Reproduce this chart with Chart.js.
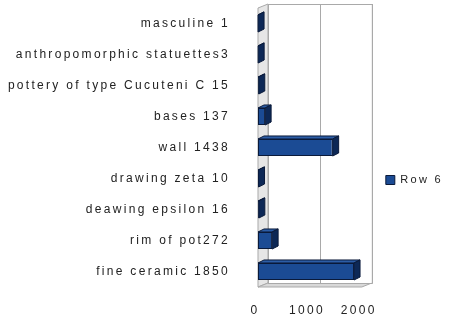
<!DOCTYPE html>
<html>
<head>
<meta charset="utf-8">
<script src="https://cdn.jsdelivr.net/npm/chart.js@4/dist/chart.umd.min.js"></script>
<style>
  html, body { margin: 0; padding: 0; background: #fff; }
  #wrap { width: 470px; height: 324px; }
</style>
</head>
<body>
<div id="wrap"><canvas id="chart"></canvas></div>
<script>
const categories = [
  'masculine 1',
  'anthropomorphic statuettes3',
  'pottery of type Cucuteni C 15',
  'bases 137',
  'wall 1438',
  'drawing zeta 10',
  'deawing epsilon 16',
  'rim of pot272',
  'fine ceramic 1850'
];
const counts = [1, 3, 15, 137, 1438, 10, 16, 272, 1850];
const xTicks = [0, 1000, 2000];
const seriesName = 'Row 6';

// fake 3d look
const wallDepth = { x: 10, y: 4 };
const barDepth = { x: 6, y: 3 };
const spacing = '2.3px';

function poly(ctx, pts, fill, stroke) {
  ctx.beginPath();
  ctx.moveTo(pts[0][0], pts[0][1]);
  for (let i = 1; i < pts.length; i++) ctx.lineTo(pts[i][0], pts[i][1]);
  ctx.closePath();
  if (fill) { ctx.fillStyle = fill; ctx.fill(); }
  if (stroke) { ctx.strokeStyle = stroke; ctx.stroke(); }
}

const box3d = {
  id: 'box3d',
  beforeUpdate(chart) { chart.ctx.letterSpacing = spacing; },
  beforeDraw(chart) { chart.ctx.letterSpacing = spacing; },
  afterLayout(chart) {
    // nudge the legend to where the original sits
    const lg = chart.legend;
    lg.left += 14; lg.right += 14;
    lg.top += 14; lg.bottom += 14;
  },
  beforeDatasetsDraw(chart) {
    const { ctx, chartArea: a, scales } = chart;
    const dx = wallDepth.x, dy = wallDepth.y;
    ctx.save();
    ctx.lineWidth = 1;
    // left wall + floor
    poly(ctx, [[a.left, a.top], [a.left + dx, a.top - dy], [a.left + dx, a.bottom - dy], [a.left, a.bottom]], '#e6e6e6', '#a9a9a9');
    poly(ctx, [[a.left, a.bottom], [a.left + dx, a.bottom - dy], [a.right + dx, a.bottom - dy], [a.right, a.bottom]], '#d9d9d9', '#a9a9a9');
    // back wall
    ctx.fillStyle = '#fff';
    ctx.fillRect(a.left + dx, a.top - dy, a.right - a.left, a.bottom - a.top);
    ctx.strokeStyle = '#a9a9a9';
    ctx.strokeRect(a.left + dx + 0.5, a.top - dy + 0.5, a.right - a.left, a.bottom - a.top);
    scales.x.ticks.forEach(t => {
      const px = Math.round(scales.x.getPixelForValue(t.value) + dx) + 0.5;
      ctx.beginPath();
      ctx.moveTo(px, a.top - dy);
      ctx.lineTo(px, a.bottom - dy);
      ctx.stroke();
    });
    ctx.restore();
  },
  afterDatasetsDraw(chart) {
    const ctx = chart.ctx;
    const bdx = barDepth.x, bdy = barDepth.y;
    ctx.save();
    ctx.lineWidth = 1;
    chart.getDatasetMeta(0).data.forEach(bar => {
      const { x, y, base, height } = bar.getProps(['x', 'y', 'base', 'height'], true);
      const top = y - height / 2, bot = y + height / 2;
      poly(ctx, [[base, top], [base + bdx, top - bdy], [x + bdx, top - bdy], [x, top]], '#2c5da6', '#0a1a3a');
      poly(ctx, [[x, top], [x + bdx, top - bdy], [x + bdx, bot - bdy], [x, bot]], '#0d2856', '#0a1a3a');
    });
    ctx.restore();
  }
};

const font = { family: '"Liberation Sans", Arial, sans-serif', size: 12 };

new Chart(document.getElementById('chart'), {
  type: 'bar',
  data: {
    labels: categories,
    datasets: [{
      label: seriesName,
      data: counts,
      backgroundColor: '#1b4b94',
      borderColor: '#0a1a3a',
      borderWidth: 1,
      borderSkipped: false,
      categoryPercentage: 1,
      barPercentage: 0.55
    }]
  },
  options: {
    indexAxis: 'y',
    responsive: true,
    maintainAspectRatio: false,
    animation: false,
    layout: { padding: { top: 8, right: 31, bottom: 0, left: 0 } },
    scales: {
      x: {
        min: xTicks[0],
        max: xTicks[xTicks.length - 1],
        afterBuildTicks: s => { s.ticks = xTicks.map(v => ({ value: v })); },
        afterFit: s => { s.height = 37; s.paddingLeft = 0; s.paddingRight = 0; },
        grid: { display: false },
        border: { display: false },
        ticks: { font, color: '#222', padding: 8, labelOffset: -3, maxRotation: 0, callback: v => String(v) }
      },
      y: {
        afterFit: s => { s.width = 258; s.paddingTop = 0; s.paddingBottom = 0; },
        grid: { display: false },
        border: { display: false },
        ticks: { font, color: '#222', padding: 20, autoSkip: false }
      }
    },
    plugins: {
      legend: {
        position: 'right',
        labels: { font: { family: font.family, size: 11 }, color: '#222', boxWidth: 9, boxHeight: 9 }
      },
      tooltip: { enabled: false }
    }
  },
  plugins: [box3d]
});
</script>
</body>
</html>
